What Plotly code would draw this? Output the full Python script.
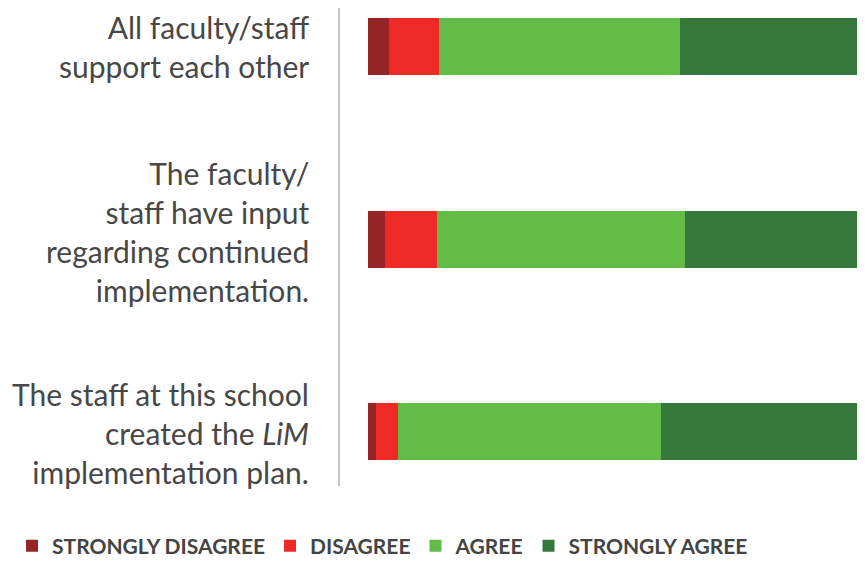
import plotly.graph_objects as go

# survey statements (top to bottom) and response shares in percent
statements = [
    "All faculty/staff<br>support each other",
    "The faculty/<br>staff have input<br>regarding continued<br>implementation.",
    "The staff at this school<br>created the <i>LiM</i><br>implementation plan.",
]
strongly_disagree = [4.2, 3.4, 1.6]
disagree = [10.1, 10.5, 4.4]
agree = [48.5, 49.9, 52.9]
strongly_agree = [37.2, 36.2, 41.1]

series = [
    ("STRONGLY DISAGREE", strongly_disagree, "#952426"),
    ("DISAGREE", disagree, "#ee2a26"),
    ("AGREE", agree, "#63bc48"),
    ("STRONGLY AGREE", strongly_agree, "#34783b"),
]

ypos = list(range(len(statements)))

fig = go.Figure()
for name, vals, color in series:
    fig.add_trace(go.Bar(
        y=ypos, x=vals, name=name, orientation="h",
        marker=dict(color=color, line=dict(width=0)),
        width=0.296, hoverinfo="x+name",
    ))

# statement labels, right aligned left of the axis line
label_shift = [0, 8, -1]
for i, txt in enumerate(statements):
    fig.add_annotation(
        x=-0.0561, xref="paper", y=i, yref="y",
        text=txt, showarrow=False, xanchor="right", yanchor="middle",
        align="right", yshift=label_shift[i],
        font=dict(family="Lato", size=30, color="#474747"),
    )

# page has an 8px body margin, so the figure is offset a bit
fig.update_layout(
    barmode="stack",
    width=849, height=562,
    margin=dict(l=332, r=0, t=0, b=84, autoexpand=False),
    plot_bgcolor="white", paper_bgcolor="white",
    bargap=0,
    xaxis=dict(range=[-5.634, 98.39], visible=False, fixedrange=True),
    yaxis=dict(range=[2.283, -0.2], showticklabels=False, showgrid=False,
               zeroline=False, showline=True, linecolor="#c4c4c4", linewidth=1.5,
               fixedrange=True),
    showlegend=True,
    legend=dict(
        orientation="h", x=-0.6344, xanchor="left", y=-0.1255, yanchor="middle",
        font=dict(family="Lato", size=21, color="#444444", weight="bold"),
        traceorder="normal", itemclick=False, itemdoubleclick=False,
    ),
)

fig.write_html("out.html")
